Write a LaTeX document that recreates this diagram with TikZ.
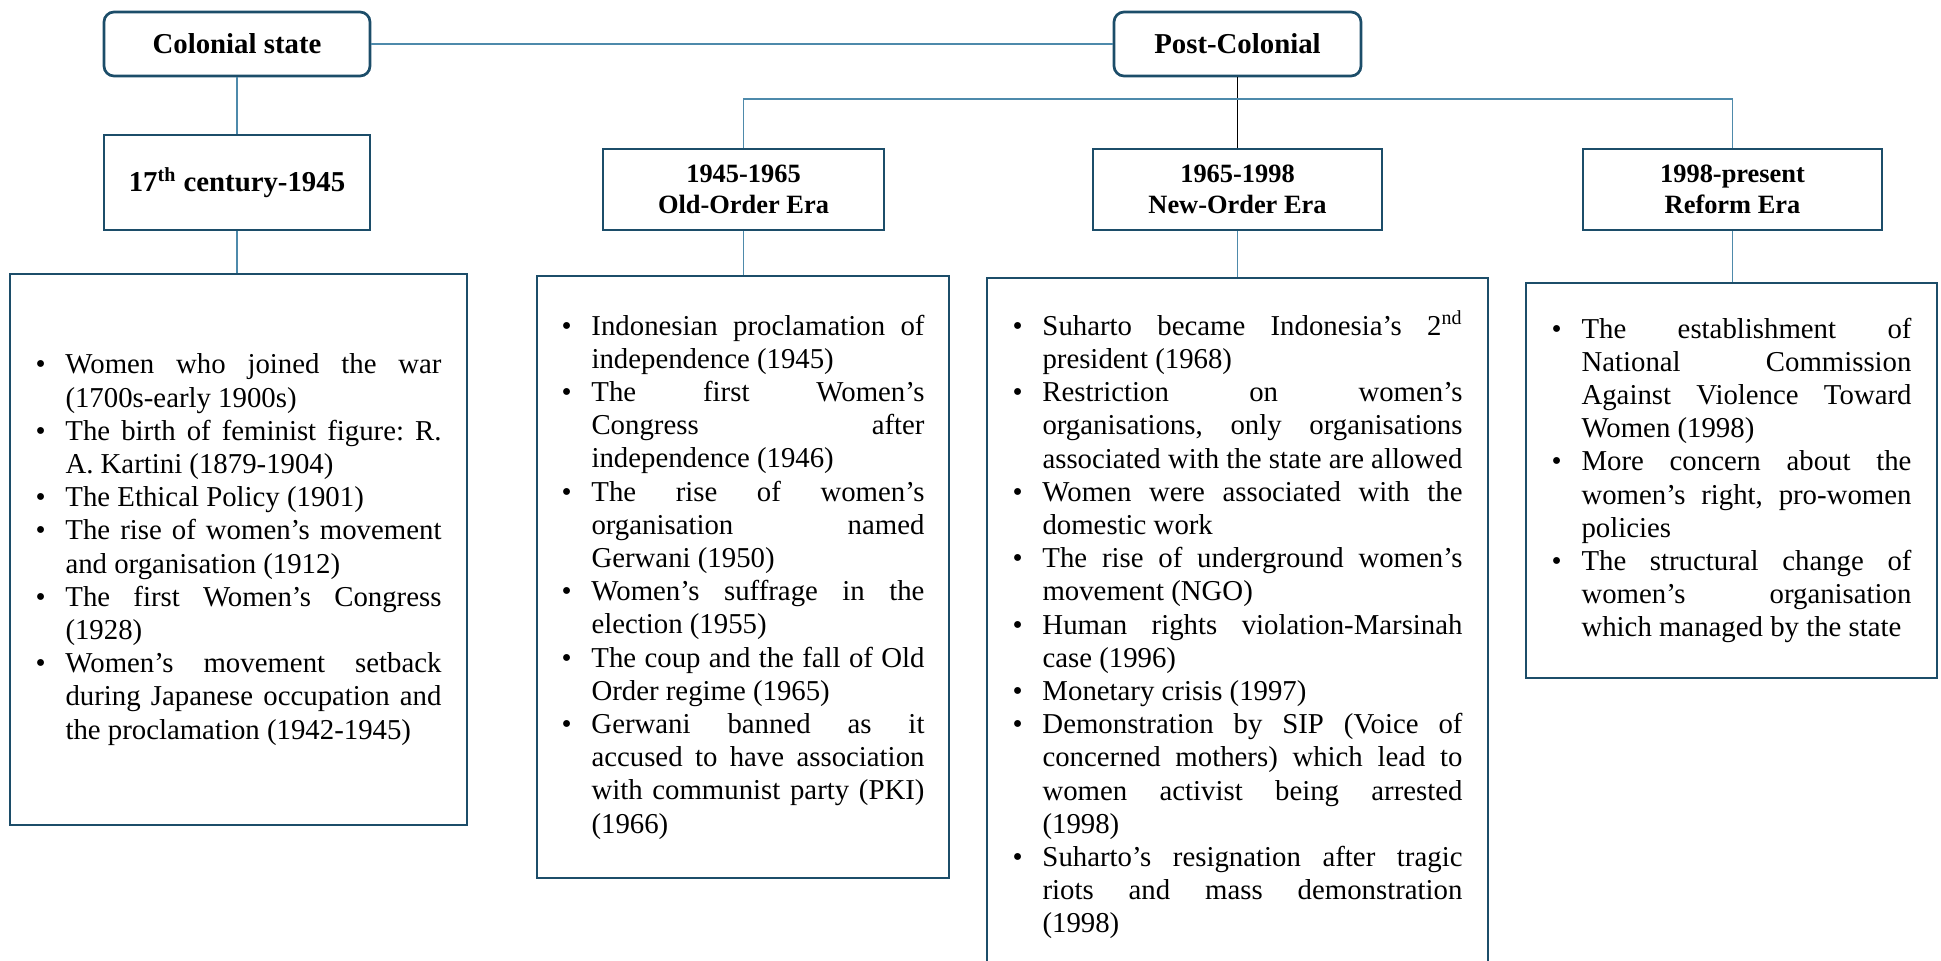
\documentclass[tikz,border=0pt]{standalone}
\usepackage{fontspec}
\setmainfont{Liberation Serif}
\usetikzlibrary{positioning}

\definecolor{framecol}{HTML}{1C4D69}
\definecolor{linkcol}{HTML}{4E8AAB}

% body text of the lists
\newcommand{\listfont}{\fontsize{14.4}{16.6}\selectfont\tolerance=10000
  \hyphenpenalty=10000 \exhyphenpenalty=10000 \frenchspacing}
\newcommand{\evt}[1]{\hangindent=15pt\hangafter=1\noindent
  \makebox[15pt][l]{\textbullet}#1\par}

\tikzset{
  topbox/.style={draw=framecol, line width=1.35pt, rounded corners=5pt,
    minimum height=32pt, inner sep=0pt,
    font=\bfseries\fontsize{14.4}{16.6}\selectfont},
  periodbox/.style={draw=framecol, line width=1.35pt, minimum height=40.5pt,
    inner sep=0pt, align=center,
    font=\bfseries\fontsize{13.2}{15.35}\selectfont},
  listbox/.style={draw=framecol, line width=1.35pt, inner sep=0pt,
    align=justify, font=\listfont},
  link/.style={draw=linkcol, line width=0.7pt},
}

\begin{document}
\begin{tikzpicture}[x=0.5pt, y=-0.5pt]
  \useasboundingbox (0, 0) rectangle (1941, 960);
  \clip (0, 0) rectangle (1941, 960);

  % Top level
  \node [topbox, minimum width=133pt] (colonial) at (237, 44) {Colonial state};
  \node [topbox, minimum width=123.5pt] (postcol) at (1237.5, 44) {Post-Colonial};

  % Periods
  \node [periodbox, minimum width=133pt, minimum height=47.5pt,
    font=\bfseries\fontsize{14.4}{16.6}\selectfont]
    (c17) at (237, 182.5) {17\textsuperscript{th} century-1945};
  \node [periodbox, minimum width=140.5pt] (oldera) at (743.5, 189.5)
    {1945-1965\\Old-Order Era};
  \node [periodbox, minimum width=144.5pt] (newera) at (1237.5, 189.5)
    {1965-1998\\New-Order Era};
  \node [periodbox, minimum width=149.5pt] (reformera) at (1732.5, 189.5)
    {1998-present\\Reform Era};

  % Events, colonial state
  \node [listbox, minimum width=228.5pt, minimum height=275.5pt,
    text width=203pt] (colbox) at (238.5, 549.5) {%
    \evt{Women who joined the war \linebreak (1700s-early 1900s)}
    \evt{The birth of feminist figure: R. \linebreak A. Kartini (1879-1904)}
    \evt{The Ethical Policy (1901)}
    \evt{The rise of women’s movement \linebreak and organisation (1912)}
    \evt{The first Women’s Congress \linebreak (1928)}
    \evt{Women’s movement setback \linebreak during Japanese occupation and
      \linebreak the proclamation (1942-1945)}};

  % Events, old order
  \node [listbox, minimum width=206pt, minimum height=301pt,
    text width=181.5pt] (oldbox) at (743, 577) {%
    \evt{Indonesian proclamation of \linebreak independence (1945)}
    \evt{The first Women’s \linebreak Congress after \linebreak
      independence (1946)}
    \evt{The rise of women’s \linebreak organisation named \linebreak
      Gerwani (1950)}
    \evt{Women’s suffrage in the \linebreak election (1955)}
    \evt{The coup and the fall of Old \linebreak Order regime (1965)}
    \evt{Gerwani banned as it \linebreak accused to have association
      \linebreak with communist party (PKI) \linebreak (1966)}};

  % Events, new order
  \node [listbox, minimum width=250.5pt, minimum height=347pt,
    text width=225pt] (newbox) at (1237.5, 625) {%
    \evt{Suharto became Indonesia’s 2\textsuperscript{nd} \linebreak
      president (1968)}
    \evt{Restriction on women’s \linebreak organisations, only organisations
      \linebreak associated with the state are allowed}
    \evt{Women were associated with the \linebreak domestic work}
    \evt{The rise of underground women’s \linebreak movement (NGO)}
    \evt{Human rights violation-Marsinah \linebreak case (1996)}
    \evt{Monetary crisis (1997)}
    \evt{Demonstration by SIP (Voice of \linebreak concerned mothers) which
      lead to \linebreak women activist being arrested \linebreak (1998)}
    \evt{Suharto’s resignation after tragic \linebreak riots and mass
      demonstration \linebreak (1998)}};

  % Events, reform era
  \node [listbox, minimum width=205.5pt, minimum height=197.5pt,
    text width=180pt] (reformbox) at (1731.5, 480.5) {%
    \evt{The establishment of \linebreak National Commission \linebreak
      Against Violence Toward \linebreak Women (1998)}
    \evt{More concern about the \linebreak women’s right, pro-women
      \linebreak policies}
    \evt{The structural change of \linebreak women’s organisation
      \linebreak which managed by the state}};

  % Edges
  \coordinate (bus) at (0, 99);
  \draw [link] (colonial) -- (postcol);
  \draw [link] (colonial) -- (c17);
  \draw [link] (c17.south) -- (c17.south |- colbox.north);
  \draw [black, line width=0.6pt] (postcol) -- (newera);
  \draw [link] (oldera.north) -- (oldera.north |- bus)
        -- (reformera.north |- bus) -- (reformera.north);
  \draw [link] (oldera.south) -- (oldera.south |- oldbox.north);
  \draw [link] (newera.south) -- (newera.south |- newbox.north);
  \draw [link] (reformera.south) -- (reformera.south |- reformbox.north);
\end{tikzpicture}
\end{document}
